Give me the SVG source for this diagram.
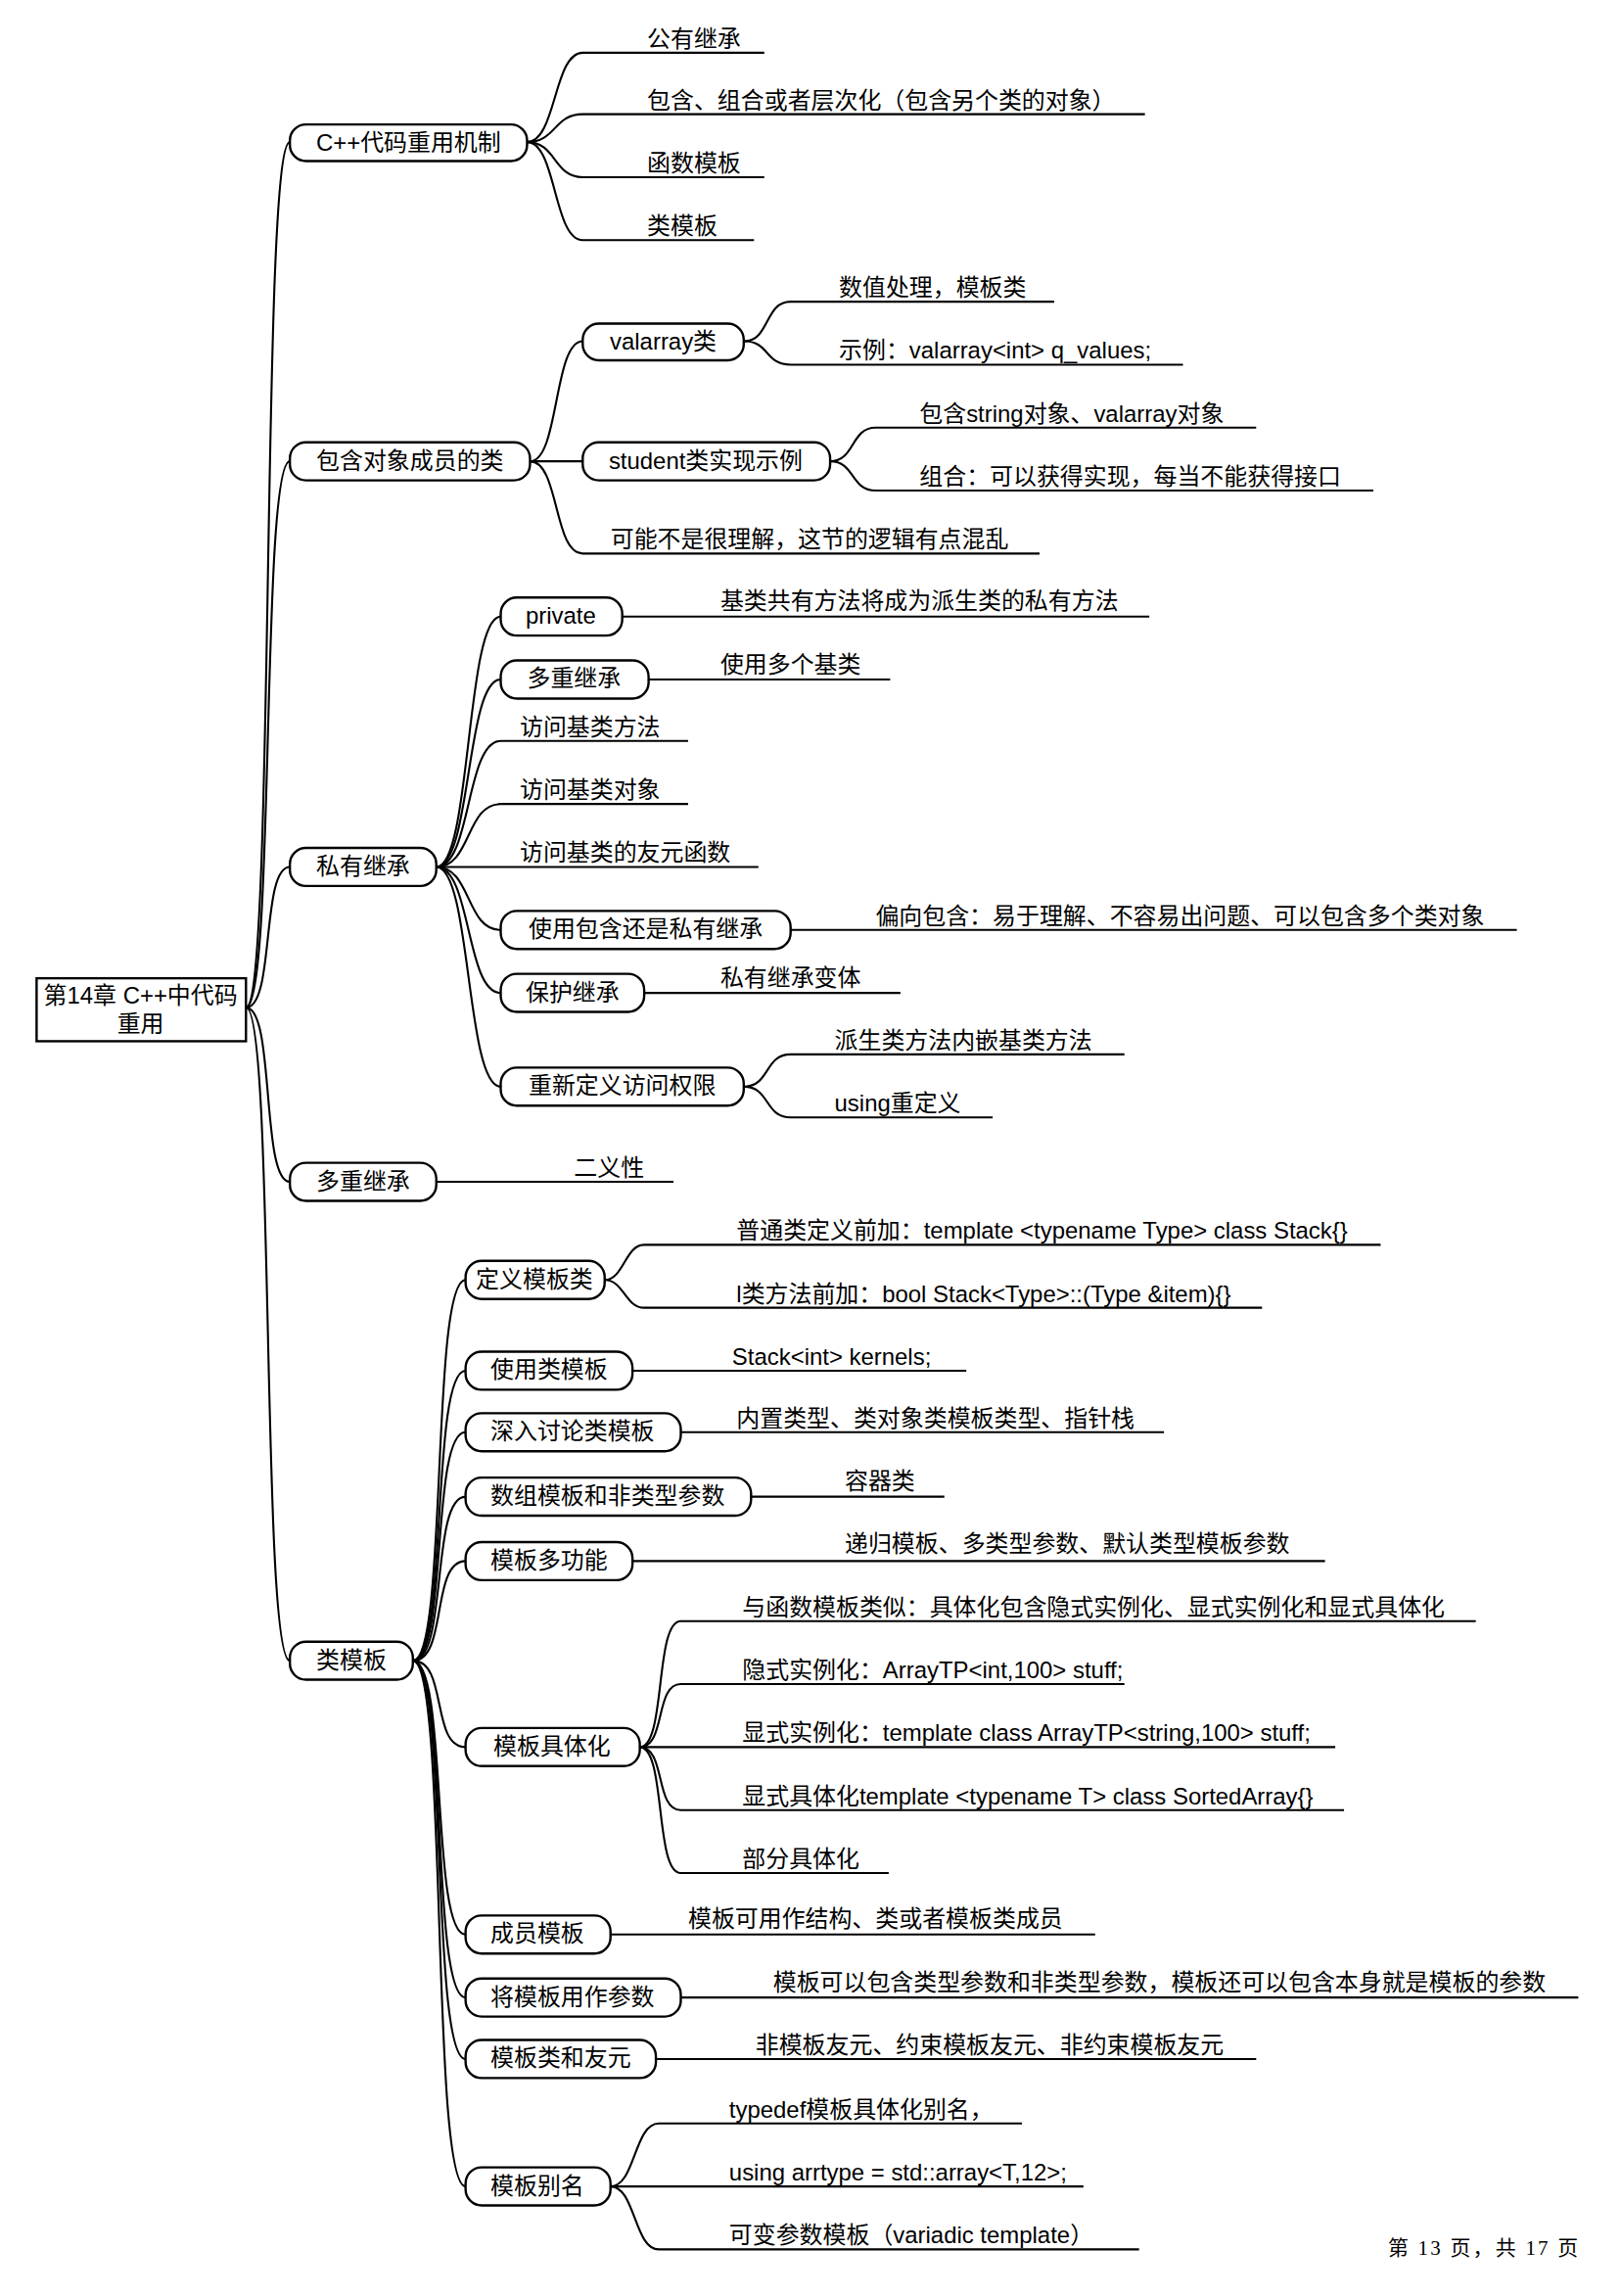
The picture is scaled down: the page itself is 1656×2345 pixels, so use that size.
<svg xmlns="http://www.w3.org/2000/svg" width="1656" height="2345" viewBox="0 0 1656 2345">
<style>
.c{fill:none;stroke:#000;stroke-width:1.4}
.n{fill:#fff;stroke:#000;stroke-width:1.6}
text{font-family:"Liberation Sans","Noto Sans CJK SC",sans-serif;font-size:16px;fill:#000}
.m{text-anchor:middle}
.f{font-family:"Liberation Serif","Noto Sans CJK SC",serif;font-size:14px;letter-spacing:1.5px}
</style>
<rect width="1656" height="2345" fill="#fff"/>
<g transform="scale(1.4957)">
<g id="connectors">
<path class="c" d="M168 688 C188 688 178 97 198 97"/>
<path class="c" d="M168 688 C188 688 178 315 198 315"/>
<path class="c" d="M168 688 C188 688 178 592 198 592"/>
<path class="c" d="M168 688 C188 688 178 807 198 807"/>
<path class="c" d="M168 688 C188 688 178 1134 198 1134"/>
<path class="c" d="M360 97 C380 97 378 36 398 36 H522"/>
<path class="c" d="M360 97 C380 97 378 78 398 78 H782"/>
<path class="c" d="M360 97 C380 97 378 121 398 121 H522"/>
<path class="c" d="M360 97 C380 97 378 164 398 164 H515"/>
<path class="c" d="M362 315 C382 315 378 233 398 233"/>
<path class="c" d="M362 315 H398"/>
<path class="c" d="M362 315 C382 315 378 378 398 378 H710"/>
<path class="c" d="M508 233 C526 233 522 206 540 206 H720"/>
<path class="c" d="M508 233 C526 233 522 249 540 249 H808"/>
<path class="c" d="M567 315 C584 315 581 292 598 292 H858"/>
<path class="c" d="M567 315 C584 315 581 335 598 335 H938"/>
<path class="c" d="M298 592 C322 592 318 421 342 421"/>
<path class="c" d="M298 592 C322 592 318 464 342 464"/>
<path class="c" d="M298 592 C322 592 318 506 342 506 H470"/>
<path class="c" d="M298 592 C322 592 318 549 342 549 H470"/>
<path class="c" d="M298 592 H518"/>
<path class="c" d="M298 592 C322 592 318 635 342 635"/>
<path class="c" d="M298 592 C322 592 318 678 342 678"/>
<path class="c" d="M298 592 C322 592 318 742 342 742"/>
<path class="c" d="M425 421 H785"/>
<path class="c" d="M443 464 H608"/>
<path class="c" d="M540 635 H1036"/>
<path class="c" d="M440 678 H615"/>
<path class="c" d="M508 742 C526 742 522 720 540 720 H768"/>
<path class="c" d="M508 742 C526 742 522 763 540 763 H678"/>
<path class="c" d="M298 807 H460"/>
<path class="c" d="M282 1134 C306 1134 294 874 318 874"/>
<path class="c" d="M282 1134 C306 1134 294 936 318 936"/>
<path class="c" d="M282 1134 C306 1134 294 978 318 978"/>
<path class="c" d="M282 1134 C306 1134 294 1022 318 1022"/>
<path class="c" d="M282 1134 C306 1134 294 1066 318 1066"/>
<path class="c" d="M282 1134 C306 1134 294 1193 318 1193"/>
<path class="c" d="M282 1134 C306 1134 294 1321 318 1321"/>
<path class="c" d="M282 1134 C306 1134 294 1364 318 1364"/>
<path class="c" d="M282 1134 C306 1134 294 1406 318 1406"/>
<path class="c" d="M282 1134 C306 1134 294 1493 318 1493"/>
<path class="c" d="M413 874 C426 874 427 850 440 850 H943"/>
<path class="c" d="M413 874 C426 874 427 893 440 893 H862"/>
<path class="c" d="M432 936 H660"/>
<path class="c" d="M465 978 H795"/>
<path class="c" d="M513 1022 H645"/>
<path class="c" d="M432 1066 H905"/>
<path class="c" d="M437 1193 C455 1193 447 1107 465 1107 H1008"/>
<path class="c" d="M437 1193 C455 1193 447 1150 465 1150 H768"/>
<path class="c" d="M437 1193 H912"/>
<path class="c" d="M437 1193 C455 1193 447 1236 465 1236 H918"/>
<path class="c" d="M437 1193 C455 1193 447 1279 465 1279 H607"/>
<path class="c" d="M417 1321 H748"/>
<path class="c" d="M465 1364 H1078"/>
<path class="c" d="M448 1406 H858"/>
<path class="c" d="M417 1493 C434 1493 433 1450 450 1450 H698"/>
<path class="c" d="M417 1493 H740"/>
<path class="c" d="M417 1493 C434 1493 433 1536 450 1536 H778"/>
</g>
<g id="root"><rect class="n" x="25" y="668" width="143" height="43"/><text class="m" x="96" y="685">第14章 C++中代码</text><text class="m" x="96" y="705">重用</text></g>
<g id="n1"><rect class="n" x="198" y="85" width="162" height="25" rx="11"/><text class="m" x="279" y="103">C++代码重用机制</text></g>
<g id="n1a"><text x="442" y="32">公有继承</text></g>
<g id="n1b"><text x="442" y="74">包含、组合或者层次化（包含另个类的对象）</text></g>
<g id="n1c"><text x="442" y="117">函数模板</text></g>
<g id="n1d"><text x="442" y="160">类模板</text></g>
<g id="n2"><rect class="n" x="198" y="302" width="164" height="26" rx="11"/><text class="m" x="280" y="320">包含对象成员的类</text></g>
<g id="n2a"><rect class="n" x="398" y="221" width="110" height="25" rx="11"/><text class="m" x="453" y="239">valarray类</text></g>
<g id="n2a1"><text x="573" y="202">数值处理，模板类</text></g>
<g id="n2a2"><text x="573" y="245">示例：valarray&lt;int&gt; q_values;</text></g>
<g id="n2b"><rect class="n" x="398" y="302" width="169" height="26" rx="11"/><text class="m" x="482" y="320">student类实现示例</text></g>
<g id="n2b1"><text x="628" y="288">包含string对象、valarray对象</text></g>
<g id="n2b2"><text x="628" y="331">组合：可以获得实现，每当不能获得接口</text></g>
<g id="n2c"><text x="417" y="374">可能不是很理解，这节的逻辑有点混乱</text></g>
<g id="n3"><rect class="n" x="198" y="579" width="100" height="26" rx="11"/><text class="m" x="248" y="597">私有继承</text></g>
<g id="n3a"><rect class="n" x="342" y="408" width="83" height="26" rx="11"/><text class="m" x="383" y="426">private</text></g>
<g id="n3a1"><text x="492" y="416">基类共有方法将成为派生类的私有方法</text></g>
<g id="n3b"><rect class="n" x="342" y="451" width="101" height="26" rx="11"/><text class="m" x="392" y="469">多重继承</text></g>
<g id="n3b1"><text x="492" y="459">使用多个基类</text></g>
<g id="n3c"><text x="355" y="502">访问基类方法</text></g>
<g id="n3d"><text x="355" y="545">访问基类对象</text></g>
<g id="n3e"><text x="355" y="588">访问基类的友元函数</text></g>
<g id="n3f"><rect class="n" x="342" y="622" width="198" height="26" rx="11"/><text class="m" x="441" y="640">使用包含还是私有继承</text></g>
<g id="n3f1"><text x="598" y="631">偏向包含：易于理解、不容易出问题、可以包含多个类对象</text></g>
<g id="n3g"><rect class="n" x="342" y="665" width="98" height="26" rx="11"/><text class="m" x="391" y="683">保护继承</text></g>
<g id="n3g1"><text x="492" y="673">私有继承变体</text></g>
<g id="n3h"><rect class="n" x="342" y="729" width="166" height="26" rx="11"/><text class="m" x="425" y="747">重新定义访问权限</text></g>
<g id="n3h1"><text x="570" y="716">派生类方法内嵌基类方法</text></g>
<g id="n3h2"><text x="570" y="759">using重定义</text></g>
<g id="n4"><rect class="n" x="198" y="794" width="100" height="26" rx="11"/><text class="m" x="248" y="812">多重继承</text></g>
<g id="n4a"><text x="392" y="803">二义性</text></g>
<g id="n5"><rect class="n" x="198" y="1121" width="84" height="26" rx="11"/><text class="m" x="240" y="1139">类模板</text></g>
<g id="n5a"><rect class="n" x="318" y="861" width="95" height="26" rx="11"/><text class="m" x="365" y="879">定义模板类</text></g>
<g id="n5a1"><text x="503" y="846">普通类定义前加：template &lt;typename Type&gt; class Stack{}</text></g>
<g id="n5a2"><text x="503" y="889">l类方法前加：bool Stack&lt;Type&gt;::(Type &amp;item){}</text></g>
<g id="n5b"><rect class="n" x="318" y="923" width="114" height="26" rx="11"/><text class="m" x="375" y="941">使用类模板</text></g>
<g id="n5b1"><text x="500" y="932">Stack&lt;int&gt; kernels;</text></g>
<g id="n5c"><rect class="n" x="318" y="965" width="147" height="26" rx="11"/><text class="m" x="391" y="983">深入讨论类模板</text></g>
<g id="n5c1"><text x="503" y="974">内置类型、类对象类模板类型、指针栈</text></g>
<g id="n5d"><rect class="n" x="318" y="1009" width="195" height="26" rx="11"/><text class="m" x="415" y="1027">数组模板和非类型参数</text></g>
<g id="n5d1"><text x="577" y="1017">容器类</text></g>
<g id="n5e"><rect class="n" x="318" y="1053" width="114" height="26" rx="11"/><text class="m" x="375" y="1071">模板多功能</text></g>
<g id="n5e1"><text x="577" y="1060">递归模板、多类型参数、默认类型模板参数</text></g>
<g id="n5f"><rect class="n" x="318" y="1180" width="119" height="26" rx="11"/><text class="m" x="377" y="1198">模板具体化</text></g>
<g id="n5f1"><text x="507" y="1103">与函数模板类似：具体化包含隐式实例化、显式实例化和显式具体化</text></g>
<g id="n5f2"><text x="507" y="1146">隐式实例化：ArrayTP&lt;int,100&gt; stuff;</text></g>
<g id="n5f3"><text x="507" y="1189">显式实例化：template class ArrayTP&lt;string,100&gt; stuff;</text></g>
<g id="n5f4"><text x="507" y="1232">显式具体化template &lt;typename T&gt; class SortedArray{}</text></g>
<g id="n5f5"><text x="507" y="1275">部分具体化</text></g>
<g id="n5g"><rect class="n" x="318" y="1308" width="99" height="26" rx="11"/><text class="m" x="367" y="1326">成员模板</text></g>
<g id="n5g1"><text x="470" y="1316">模板可用作结构、类或者模板类成员</text></g>
<g id="n5h"><rect class="n" x="318" y="1351" width="147" height="26" rx="11"/><text class="m" x="391" y="1369">将模板用作参数</text></g>
<g id="n5h1"><text x="528" y="1359">模板可以包含类型参数和非类型参数，模板还可以包含本身就是模板的参数</text></g>
<g id="n5i"><rect class="n" x="318" y="1393" width="130" height="26" rx="11"/><text class="m" x="383" y="1411">模板类和友元</text></g>
<g id="n5i1"><text x="516" y="1402">非模板友元、约束模板友元、非约束模板友元</text></g>
<g id="n5j"><rect class="n" x="318" y="1480" width="99" height="26" rx="11"/><text class="m" x="367" y="1498">模板别名</text></g>
<g id="n5j1"><text x="498" y="1446">typedef模板具体化别名，</text></g>
<g id="n5j2"><text x="498" y="1489">using arrtype = std::array&lt;T,12&gt;;</text></g>
<g id="n5j3"><text x="498" y="1532">可变参数模板（variadic template）</text></g>
<text class="f" x="948" y="1540">第 13 页，共 17 页</text>
</g>
</svg>
